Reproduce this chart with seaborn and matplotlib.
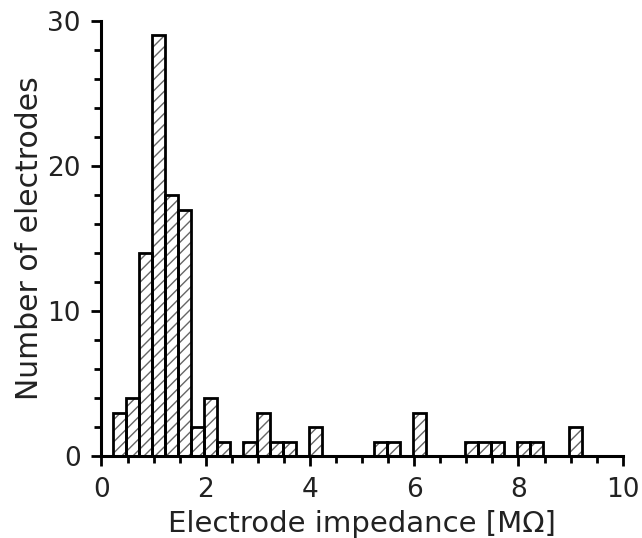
import numpy as np
import pandas as pd
import matplotlib
matplotlib.use("Agg")
import matplotlib.pyplot as plt
from matplotlib.ticker import MultipleLocator
import seaborn as sns

# Histogram data (bin width 0.25 MΩ)
bin_start = 0.225
bin_width = 0.25
counts = [3, 4, 14, 29, 18, 17, 2, 4, 1, 0,
          1, 3, 1, 1, 0, 2, 0, 0, 0, 0,
          1, 1, 0, 3, 0, 0, 0, 1, 1, 1,
          0, 1, 1, 0, 0, 2]
x_ticks = [0, 2, 4, 6, 8, 10]
y_ticks = [0, 10, 20, 30]
x_label = "Electrode impedance [MΩ]"
y_label = "Number of electrodes"

edges = (bin_start + bin_width * np.arange(len(counts) + 1)).tolist()
centers = [(a + b) / 2 for a, b in zip(edges[:-1], edges[1:])]
df = pd.DataFrame({"impedance": centers, "count": counts})

sns.set_theme(style="ticks")
plt.rcParams["font.family"] = ["DejaVu Sans"]
plt.rcParams["hatch.linewidth"] = 1.0
plt.rcParams["xtick.labelsize"] = 19
plt.rcParams["ytick.labelsize"] = 19
plt.rcParams["xtick.major.pad"] = 8
plt.rcParams["ytick.major.pad"] = 8

fig = plt.figure(figsize=(6.42, 5.38), dpi=100)
ax = fig.add_axes([0.158, 0.152, 0.812, 0.809])

# hatched fill (gray hatch lines)
sns.histplot(data=df, x="impedance", weights="count", bins=edges, ax=ax,
             color="white", edgecolor="#666666", linewidth=0, alpha=1,
             hatch="///")
# bold black outline
sns.histplot(data=df, x="impedance", weights="count", bins=edges, ax=ax,
             fill=False, color="black", linewidth=2.0, element="bars")

ax.set_xlim(0, 10)
ax.set_ylim(0, 30)
ax.set_xticks(x_ticks)
ax.set_yticks(y_ticks)
ax.xaxis.set_minor_locator(MultipleLocator(0.5))
ax.yaxis.set_minor_locator(MultipleLocator(2))
sns.despine(ax=ax)
for s in ["left", "bottom"]:
    ax.spines[s].set_linewidth(2.2)
    ax.spines[s].set_color("black")
ax.tick_params(axis="x", which="major", length=7, width=2, color="black",
               labelsize=19, labelcolor="#222222", pad=8)
ax.tick_params(axis="y", which="major", length=7, width=2, color="black",
               labelsize=19, labelcolor="#222222", pad=8)
ax.tick_params(which="minor", length=5, width=2, color="black")
ax.set_xlabel(x_label, fontsize=21, color="#222222", labelpad=5)
ax.set_ylabel(y_label, fontsize=21.5, color="#222222", labelpad=2)

fig.savefig("out.png", dpi=100, facecolor="white")
